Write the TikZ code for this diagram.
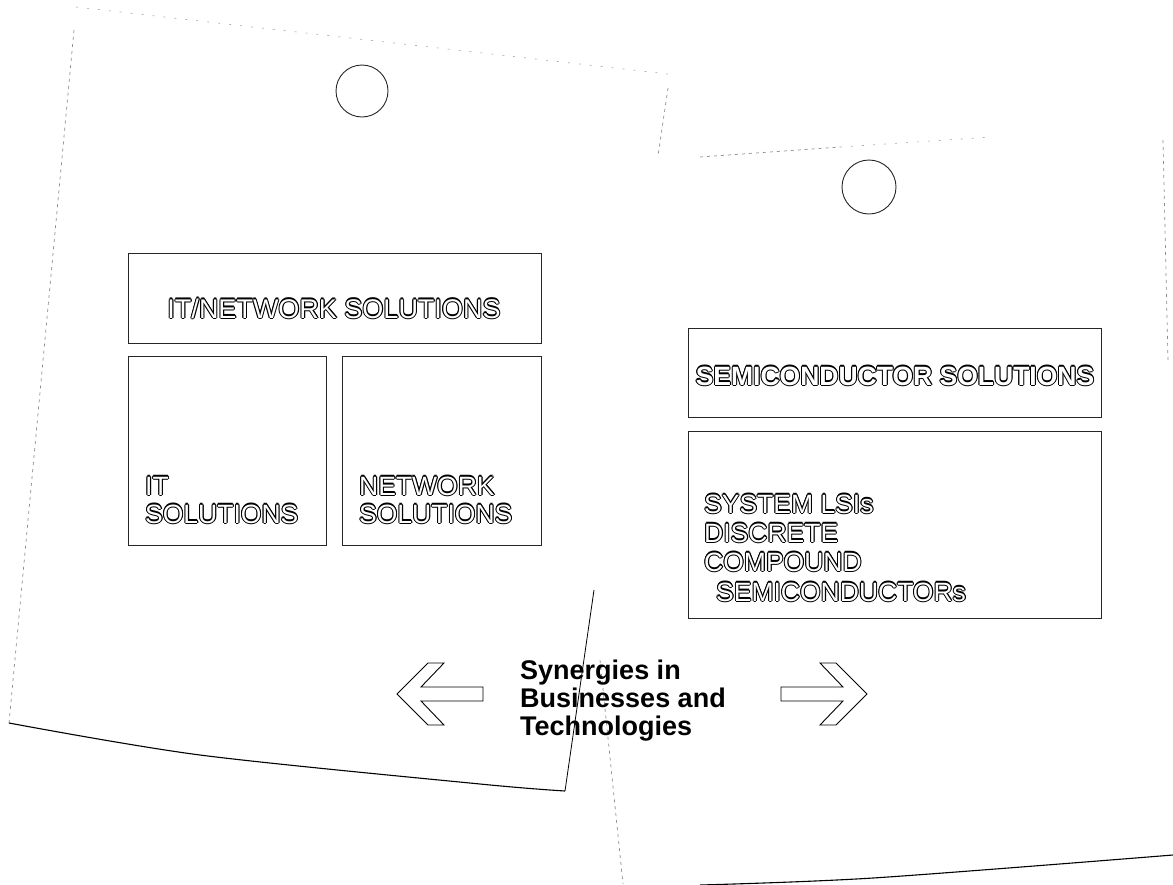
\documentclass[tikz,border=0pt]{standalone}
\usepackage{fontspec}
\setmainfont{Liberation Sans}
\newlength\olw
\setlength\olw{1.05pt}
\newcommand\olout[1]{\leavevmode\rlap{\kern-\olw#1}\rlap{\kern\olw#1}\rlap{\raisebox{\olw}{#1}}\rlap{\raisebox{-\olw}{#1}}\rlap{\kern-0.7\olw\raisebox{0.7\olw}{#1}}\rlap{\kern0.7\olw\raisebox{0.7\olw}{#1}}\rlap{\kern-0.7\olw\raisebox{-0.7\olw}{#1}}\rlap{\kern0.7\olw\raisebox{-0.7\olw}{#1}}\textcolor{white}{#1}}
\tikzset{
  box/.style={draw=black!85, line width=0.9pt, inner sep=0pt, anchor=north west},
  olabel/.style={inner sep=0pt, font=\fontsize{26.5}{29}\selectfont},
  faintedge/.style={draw=black!45, line width=0.7pt, dash pattern=on 3pt off 4pt},
  sparseedge/.style={draw=black!35, line width=0.6pt, dash pattern=on 2pt off 9pt},
  solidedge/.style={draw=black, line width=1.1pt},
  hole/.style={draw=black!85, line width=0.9pt},
  blockarrow/.style={draw=black, line width=0.9pt, line join=miter},
  synergy/.style={font=\bfseries\fontsize{27}{27}\selectfont, inner sep=0pt, anchor=base west}
}
\begin{document}
\begin{tikzpicture}[x=1pt,y=-1pt]
\useasboundingbox[fill=white] (0,0) rectangle (1173,884);

% ---------- left sheet ----------
\draw[sparseedge] (76,7) -- (668,74);
\draw[faintedge] (74,30) -- (9,723);
\draw[solidedge] plot[smooth] coordinates {(9,723) (200,755) (480,784) (565,791)};
\draw[faintedge] (668,88) -- (658,156);
\draw[line width=0.8pt] (594,590) -- (565,791);
\draw[hole] (362,91) circle (26);

% ---------- right sheet ----------
\draw[faintedge] (700,157) -- (840,147);
\draw[sparseedge] (840,147) -- (992,137);
\draw[faintedge] (1163,140) -- (1168,362);
\draw[faintedge] (600,660) -- (623,884);
\draw[solidedge] plot[smooth] coordinates {(700,885) (873,878) (1173,855)};
\draw[hole] (869,187) circle (27);

% ---------- left boxes ----------
\node[box, minimum width=413pt, minimum height=90pt] (itnet) at (128,253) {};
\node[box, minimum width=198pt, minimum height=189pt] (itbox) at (128,356) {};
\node[box, minimum width=199pt, minimum height=189pt] (netbox) at (342,356) {};

\node[olabel, anchor=base, font=\fontsize{27}{29}\selectfont] (t-itnet) at (334,318) {\olout{IT/NETWORK SOLUTIONS}};
\node[olabel, anchor=base west] (t-it1) at (145,495) {\olout{IT}};
\node[olabel, anchor=base west] (t-it2) at (145,523) {\olout{SOLUTIONS}};
\node[olabel, anchor=base west] (t-net1) at (359,495) {\olout{NETWORK}};
\node[olabel, anchor=base west] (t-net2) at (359,523) {\olout{SOLUTIONS}};

% ---------- right boxes ----------
\node[box, minimum width=413pt, minimum height=89pt] (semi) at (688,328) {};
\node[box, line width=1.2pt, minimum width=413pt, minimum height=187pt] (semilist) at (688,431) {};

\node[olabel, anchor=base, font=\bfseries\fontsize{26.5}{29}\selectfont] (t-semi) at (895,385) {\olout{SEMICONDUCTOR SOLUTIONS}};
\node[olabel, anchor=base west] (t-l1) at (704,513) {\olout{SYSTEM LSIs}};
\node[olabel, anchor=base west] (t-l2) at (704,542) {\olout{DISCRETE}};
\node[olabel, anchor=base west] (t-l3) at (704,571) {\olout{COMPOUND}};
\node[olabel, anchor=base west] (t-l4) at (716,601) {\olout{SEMICONDUCTORs}};

% ---------- synergy text and arrows ----------
\node[synergy] (syn1) at (520,679) {Synergies in};
\node[synergy] (syn2) at (520,707) {Businesses and};
\node[synergy] (syn3) at (520,735) {Technologies};

\draw[blockarrow] (397,694) -- (428,663) -- (444,663) -- (421,687) -- (483,687)
  -- (483,701) -- (421,701) -- (444,725) -- (428,725) -- cycle;
\draw[blockarrow] (867,694) -- (836,663) -- (820,663) -- (843,687) -- (781,687)
  -- (781,701) -- (843,701) -- (820,725) -- (836,725) -- cycle;
\end{tikzpicture}
\end{document}
